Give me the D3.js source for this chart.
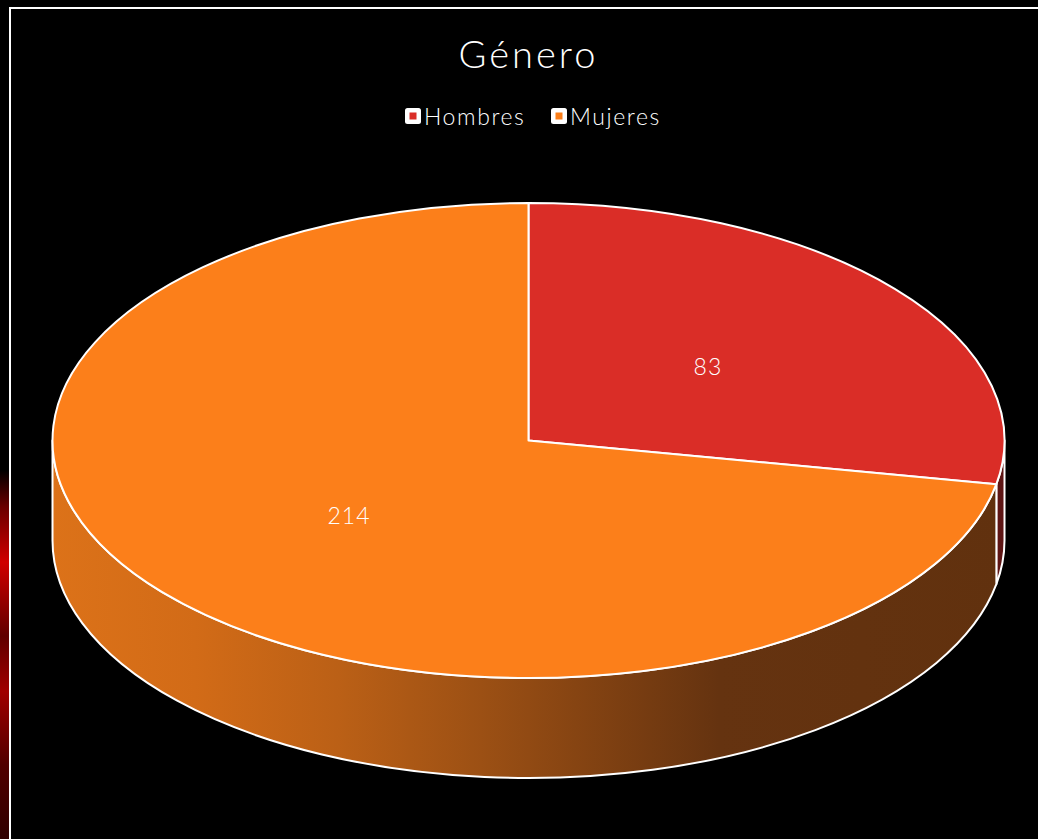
<!DOCTYPE html>
<html>
<head>
<meta charset="utf-8">
<script src="https://cdn.jsdelivr.net/npm/d3@7"></script>
<style>
  html, body { margin: 0; padding: 0; background: #000; overflow: hidden; }
  text { font-family: "Lato", "DejaVu Sans", sans-serif; fill: #fff; }
</style>
</head>
<body>
<svg></svg>
<script>
// datos
const categories = ["Hombres", "Mujeres"];
const values = [83, 214];
const colors = ["#da2d27", "#fc7f1a"];
const sideColors = ["#5e1514", "url(#sideGrad)"];
const title = "Género";

const width = 1038,
    height = 839;

const cx = 528.5, cy = 440.5,
    rx = 476, ry = 237.5,
    depth = 100;

const svg = d3.select("svg")
    .attr("width", width)
    .attr("height", height);

const defs = svg.append("defs");

// degradado del lateral naranja
const grad = defs.append("linearGradient")
    .attr("id", "sideGrad")
    .attr("gradientUnits", "userSpaceOnUse")
    .attr("x1", cx - rx).attr("x2", cx + rx)
    .attr("y1", 0).attr("y2", 0);
[[0, "#dc7219"], [0.15, "#d26b17"], [0.3, "#bb6016"], [0.45, "#9c5014"],
 [0.55, "#864412"], [0.7, "#653310"], [1, "#61310e"]].forEach(s => {
    grad.append("stop").attr("offset", s[0]).attr("stop-color", s[1]);
});

// mancha roja del fondo a la izquierda
const bgGrad = defs.append("linearGradient")
    .attr("id", "bgGrad")
    .attr("x1", 0).attr("x2", 0).attr("y1", 0).attr("y2", 1);
[[0, "#000"], [0.1, "#6a0000"], [0.25, "#d00000"], [0.45, "#600000"],
 [0.6, "#a00000"], [0.8, "#500000"], [1, "#300000"]].forEach(s => {
    bgGrad.append("stop").attr("offset", s[0]).attr("stop-color", s[1]);
});

svg.append("rect")
    .attr("width", width).attr("height", height)
    .attr("fill", "#000");

svg.append("rect")
    .attr("x", 0).attr("y", 470)
    .attr("width", 9).attr("height", height - 470)
    .attr("fill", "url(#bgGrad)");

// marco
svg.append("rect")
    .attr("x", 10).attr("y", 8)
    .attr("width", width + 20).attr("height", height + 20)
    .attr("fill", "#000")
    .attr("stroke", "#fff")
    .attr("stroke-width", 2);

// título
svg.append("text")
    .attr("x", cx)
    .attr("y", 68)
    .attr("text-anchor", "middle")
    .style("font-size", "38px")
    .style("font-weight", 300)
    .style("letter-spacing", "3px")
    .text(title);

// leyenda
const legend = svg.append("g").attr("class", "legend");
const legendX = [405, 551];
categories.forEach((c, i) => {
    const g = legend.append("g")
        .attr("transform", `translate(${legendX[i]} 108)`);
    g.append("rect")
        .attr("width", 16).attr("height", 16)
        .attr("rx", 2.5)
        .attr("fill", "#fff");
    g.append("rect")
        .attr("x", 4.5).attr("y", 4.5)
        .attr("width", 7).attr("height", 7)
        .attr("fill", colors[i]);
    g.append("text")
        .attr("x", 19)
        .attr("y", 17)
        .style("font-size", "23px")
        .style("font-weight", 300)
        .style("letter-spacing", "1.6px")
        .text(c);
});

// pastel 3D
const pie = d3.pie().sort(null).startAngle(0).endAngle(2 * Math.PI);
const arcs = pie(values);

const pt = (a, dy = 0) => [cx + rx * Math.sin(a), cy - ry * Math.cos(a) + dy];

function topPath(d) {
    const p0 = pt(d.startAngle), p1 = pt(d.endAngle);
    const large = d.endAngle - d.startAngle > Math.PI ? 1 : 0;
    return `M${cx},${cy}L${p0}A${rx},${ry} 0 ${large} 1 ${p1}Z`;
}

function sidePath(a0, a1) {
    const p0 = pt(a0), p1 = pt(a1), q0 = pt(a0, depth), q1 = pt(a1, depth);
    const large = a1 - a0 > Math.PI ? 1 : 0;
    return `M${p0}A${rx},${ry} 0 ${large} 1 ${p1}L${q1}A${rx},${ry} 0 ${large} 0 ${q0}Z`;
}

const pieG = svg.append("g").attr("class", "pie");

// laterales visibles (mitad delantera)
const sides = arcs.map((d, i) => {
    const a0 = Math.max(d.startAngle, Math.PI / 2),
        a1 = Math.min(d.endAngle, 3 * Math.PI / 2);
    return { i: i, a0: a0, a1: a1 };
}).filter(s => s.a1 > s.a0);

pieG.append("g").selectAll("path")
    .data(sides)
    .enter()
    .append("path")
    .attr("d", s => sidePath(s.a0, s.a1))
    .attr("fill", s => sideColors[s.i])
    .attr("stroke", "#fff")
    .attr("stroke-width", 2)
    .attr("stroke-linejoin", "round");

pieG.append("g").selectAll("path")
    .data(arcs)
    .enter()
    .append("path")
    .attr("d", topPath)
    .attr("fill", (d, i) => colors[i])
    .attr("stroke", "#fff")
    .attr("stroke-width", 2)
    .attr("stroke-linejoin", "round");

// etiquetas de datos
pieG.append("g").selectAll("text")
    .data(arcs)
    .enter()
    .append("text")
    .attr("x", d => cx + 0.49 * rx * Math.sin((d.startAngle + d.endAngle) / 2))
    .attr("y", d => cy - 0.49 * ry * Math.cos((d.startAngle + d.endAngle) / 2))
    .attr("text-anchor", "middle")
    .attr("dominant-baseline", "central")
    .style("font-size", "23px")
    .style("font-weight", 300)
    .style("letter-spacing", "1px")
    .text(d => d.value);
</script>
</body>
</html>
